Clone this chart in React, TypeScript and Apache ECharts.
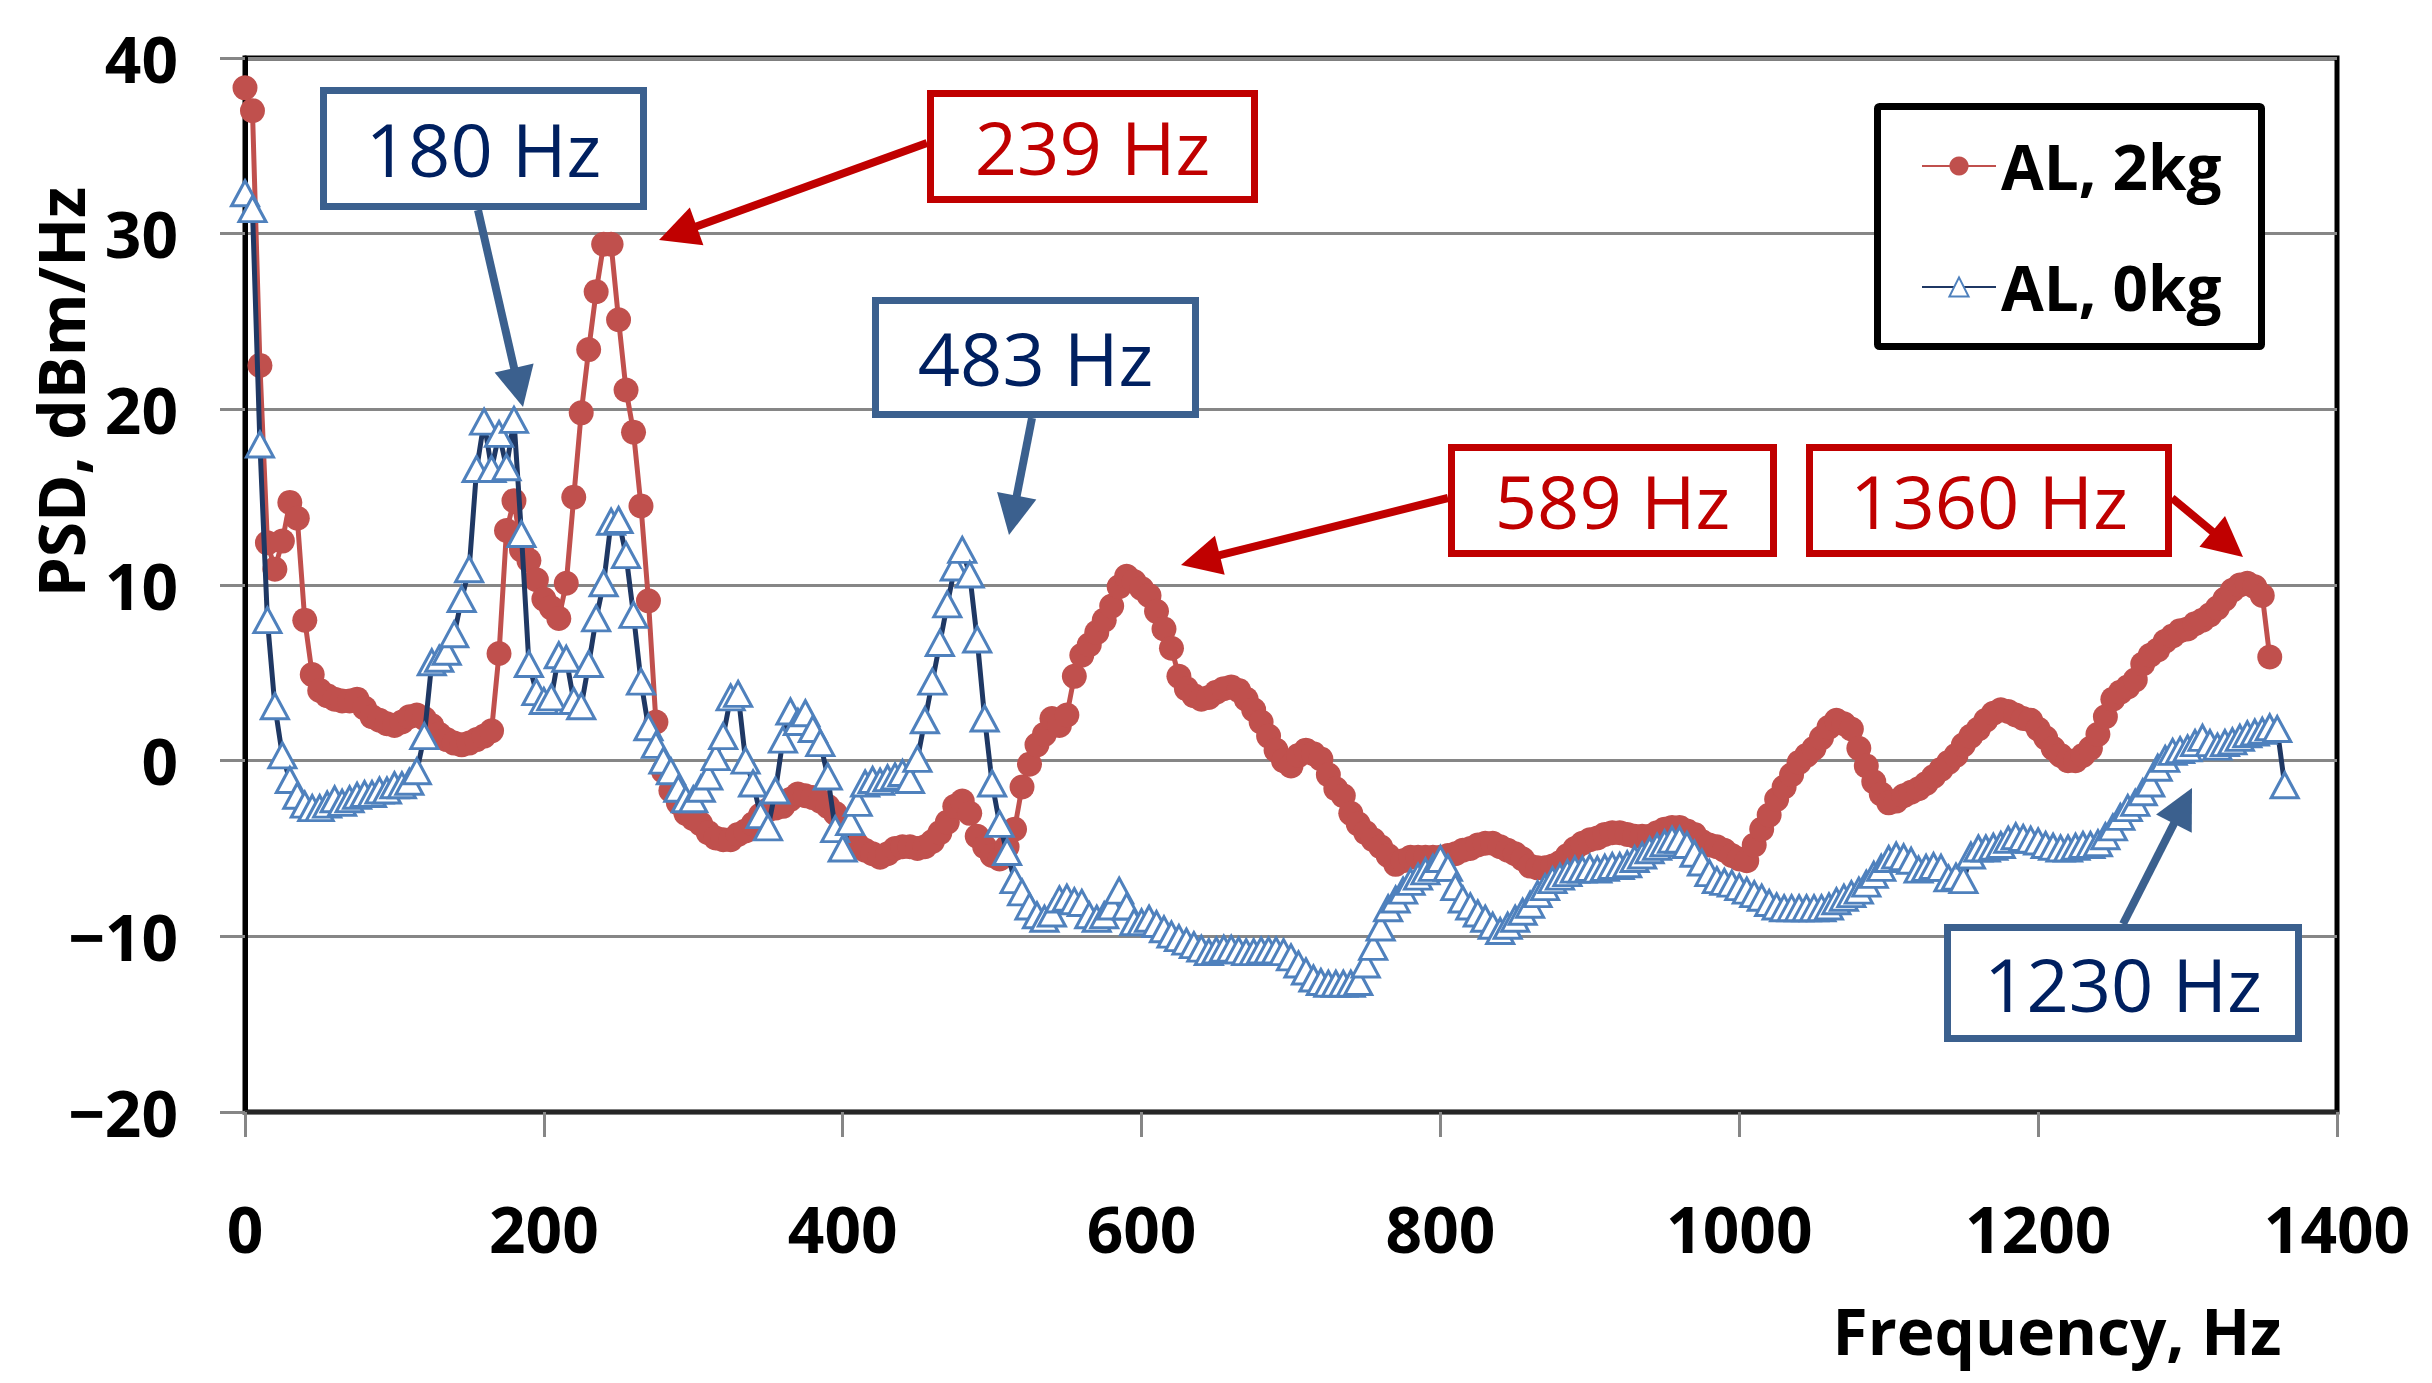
import React, { useEffect, useRef } from "react";
import * as echarts from "echarts";

// ---------------- DATA ----------------
const FREQ_HZ = [
  0, 5, 10, 15, 20, 25, 30, 35, 40, 45, 50, 55, 60, 65, 70, 75, 80, 85, 90, 95,
  100, 105, 110, 115, 120, 125, 130, 135, 140, 145, 150, 155, 160, 165, 170, 175, 180, 185, 190, 195,
  200, 205, 210, 215, 220, 225, 230, 235, 240, 245, 250, 255, 260, 265, 270, 275, 280, 285, 290, 295,
  300, 305, 310, 315, 320, 325, 330, 335, 340, 345, 350, 355, 360, 365, 370, 375, 380, 385, 390, 395,
  400, 405, 410, 415, 420, 425, 430, 435, 440, 445, 450, 455, 460, 465, 470, 475, 480, 485, 490, 495,
  500, 505, 510, 515, 520, 525, 530, 535, 540, 545, 550, 555, 560, 565, 570, 575, 580, 585, 590, 595,
  600, 605, 610, 615, 620, 625, 630, 635, 640, 645, 650, 655, 660, 665, 670, 675, 680, 685, 690, 695,
  700, 705, 710, 715, 720, 725, 730, 735, 740, 745, 750, 755, 760, 765, 770, 775, 780, 785, 790, 795,
  800, 805, 810, 815, 820, 825, 830, 835, 840, 845, 850, 855, 860, 865, 870, 875, 880, 885, 890, 895,
  900, 905, 910, 915, 920, 925, 930, 935, 940, 945, 950, 955, 960, 965, 970, 975, 980, 985, 990, 995,
  1000, 1005, 1010, 1015, 1020, 1025, 1030, 1035, 1040, 1045, 1050, 1055, 1060, 1065, 1070, 1075, 1080, 1085, 1090, 1095,
  1100, 1105, 1110, 1115, 1120, 1125, 1130, 1135, 1140, 1145, 1150, 1155, 1160, 1165, 1170, 1175, 1180, 1185, 1190, 1195,
  1200, 1205, 1210, 1215, 1220, 1225, 1230, 1235, 1240, 1245, 1250, 1255, 1260, 1265, 1270, 1275, 1280, 1285, 1290, 1295,
  1300, 1305, 1310, 1315, 1320, 1325, 1330, 1335, 1340, 1345, 1350, 1355, 1360, 1365,
];

// PSD, dBm/Hz for "AL, 2kg" (one value per FREQ_HZ entry, ends at 1355 Hz)
const AL_2KG = [
  38.3, 37.0, 22.5, 12.4, 10.9, 12.5, 14.7, 13.8, 8.0, 4.9,
  4.0, 3.7, 3.5, 3.4, 3.4, 3.5, 3.0, 2.5, 2.3, 2.1,
  2.0, 2.2, 2.5, 2.6, 2.4, 2.0, 1.5, 1.2, 1.0, 0.9,
  1.0, 1.2, 1.4, 1.7, 6.1, 13.1, 14.8, 12.0, 11.4, 10.3,
  9.2, 8.7, 8.1, 10.1, 15.0, 19.8, 23.4, 26.7, 29.4, 29.4,
  25.1, 21.1, 18.7, 14.5, 9.1, 2.2, -0.6, -1.7, -2.4, -3.0,
  -3.3, -3.6, -4.1, -4.4, -4.5, -4.5, -4.2, -4.0, -3.6, -3.1,
  -2.8, -2.7, -2.6, -2.2, -1.9, -2.0, -2.1, -2.3, -2.6, -3.0,
  -3.7, -4.3, -4.8, -5.1, -5.3, -5.5, -5.3, -5.0, -4.9, -4.9,
  -5.0, -4.9, -4.6, -4.1, -3.5, -2.6, -2.3, -3.0, -4.3, -4.9,
  -5.4, -5.6, -4.9, -3.9, -1.5, -0.2, 0.9, 1.5, 2.4, 2.0,
  2.6, 4.8, 6.0, 6.6, 7.3, 8.0, 8.8, 9.9, 10.5, 10.2,
  9.8, 9.4, 8.5, 7.5, 6.4, 4.8, 4.1, 3.7, 3.5, 3.6,
  3.9, 4.1, 4.2, 4.0, 3.5, 2.9, 2.2, 1.4, 0.6, 0.0,
  -0.3, 0.3, 0.6, 0.4, 0.1, -0.8, -1.6, -2.0, -3.0, -3.6,
  -4.1, -4.5, -4.9, -5.4, -5.9, -5.7, -5.5, -5.5, -5.5, -5.5,
  -5.5, -5.4, -5.3, -5.1, -5.0, -4.8, -4.7, -4.7, -4.9, -5.1,
  -5.3, -5.6, -6.0, -6.1, -6.1, -6.0, -5.8, -5.4, -5.0, -4.7,
  -4.5, -4.4, -4.2, -4.1, -4.1, -4.2, -4.3, -4.3, -4.3, -4.1,
  -3.9, -3.8, -3.8, -4.0, -4.2, -4.6, -4.8, -4.9, -5.1, -5.4,
  -5.6, -5.7, -4.8, -3.9, -3.1, -2.2, -1.5, -0.8, -0.1, 0.3,
  0.7, 1.3, 1.9, 2.3, 2.1, 1.8, 0.7, -0.3, -1.2, -1.9,
  -2.4, -2.3, -2.0, -1.8, -1.6, -1.3, -0.9, -0.5, -0.1, 0.3,
  0.9, 1.4, 1.8, 2.3, 2.7, 2.9, 2.8, 2.6, 2.4, 2.3,
  1.8, 1.3, 0.7, 0.3, 0.0, 0.0, 0.3, 0.7, 1.5, 2.5,
  3.5, 3.9, 4.2, 4.6, 5.5, 6.0, 6.3, 6.8, 7.1, 7.4,
  7.5, 7.8, 8.0, 8.3, 8.7, 9.2, 9.7, 10.0, 10.1, 9.9,
  9.4, 5.9,
];

// PSD, dBm/Hz for "AL, 0kg" (one value per FREQ_HZ entry, ends at 1365 Hz)
const AL_0KG = [
  32.3, 31.4, 18.0, 8.0, 3.1, 0.3, -1.1, -2.0, -2.5, -2.7,
  -2.7, -2.5, -2.2, -2.4, -2.2, -2.0, -1.9, -1.9, -1.7, -1.7,
  -1.4, -1.4, -1.2, -0.6, 1.4, 5.6, 5.8, 6.2, 7.2, 9.2,
  10.9, 16.6, 19.3, 16.6, 18.6, 16.7, 19.4, 12.9, 5.5, 3.9,
  3.4, 3.6, 6.0, 5.8, 3.4, 3.1, 5.5, 8.1, 10.1, 13.6,
  13.7, 11.7, 8.3, 4.5, 1.9, 0.9, 0.0, -0.6, -1.6, -2.2,
  -2.2, -1.6, -0.9, 0.2, 1.4, 3.6, 3.8, 0.0, -1.3, -3.1,
  -3.8, -1.7, 1.2, 2.8, 2.2, 2.7, 1.8, 1.0, -0.9, -3.9,
  -5.0, -3.5, -2.4, -1.3, -1.1, -1.2, -1.0, -0.9, -0.7, -1.1,
  0.1, 2.3, 4.5, 6.7, 8.9, 11.0, 12.0, 10.6, 6.9, 2.4,
  -1.3, -3.6, -5.2, -6.8, -7.5, -8.3, -8.8, -9.0, -8.7, -7.9,
  -7.8, -8.0, -8.1, -8.8, -9.0, -8.8, -8.3, -7.4, -8.3, -9.2,
  -9.2, -9.0, -9.3, -9.6, -9.9, -10.1, -10.3, -10.5, -10.7, -10.9,
  -10.8, -10.7, -10.7, -10.8, -10.9, -10.9, -10.8, -10.8, -10.8, -10.9,
  -11.2, -11.6, -12.0, -12.4, -12.6, -12.7, -12.7, -12.7, -12.7, -12.6,
  -11.6, -10.6, -9.5, -8.4, -7.9, -7.4, -6.9, -6.6, -6.3, -6.1,
  -5.6, -6.1, -7.2, -7.9, -8.3, -8.7, -9.0, -9.4, -9.7, -9.4,
  -9.0, -8.6, -8.2, -7.6, -7.2, -6.8, -6.6, -6.4, -6.2, -6.2,
  -6.1, -6.2, -6.1, -6.0, -6.0, -5.9, -5.6, -5.4, -5.1, -4.9,
  -4.7, -4.5, -4.5, -4.8, -5.3, -5.8, -6.4, -6.8, -6.9, -7.0,
  -7.2, -7.4, -7.6, -7.8, -8.1, -8.3, -8.4, -8.4, -8.4, -8.4,
  -8.4, -8.4, -8.3, -8.0, -7.8, -7.6, -7.4, -7.0, -6.5, -6.1,
  -5.6, -5.4, -5.5, -5.7, -6.2, -6.1, -6.0, -6.1, -6.7, -6.6,
  -6.8, -5.4, -5.0, -5.0, -4.9, -4.8, -4.5, -4.3, -4.4, -4.5,
  -4.6, -4.8, -4.9, -5.0, -5.0, -4.9, -4.8, -4.8, -4.7, -4.3,
  -3.8, -3.2, -2.7, -2.4, -1.8, -1.3, -0.4, 0.1, 0.5, 0.6,
  0.7, 1.0, 1.3, 1.0, 0.8, 1.0, 1.1, 1.3, 1.5, 1.6,
  1.7, 1.9, 1.8, -1.4,
];

const SERIES_NAMES = ["AL, 2kg", "AL, 0kg"];
const X_RANGE = [0, 1400];
const X_STEP = 200;
const Y_RANGE = [-20, 40];
const Y_STEP = 10;
const X_TITLE = "Frequency, Hz";
const Y_TITLE = "PSD, dBm/Hz";
const CALLOUT_TEXTS = ["180 Hz", "239 Hz", "483 Hz", "589 Hz", "1360 Hz", "1230 Hz"];

// ---------------- LAYOUT / STYLE ----------------
const FONT = '"Open Sans", "Noto Sans", sans-serif';
const RED = "#C0504D";
const NAVY = "#1F3864";
const TRI = "#4F81BD";
const BOX_BLUE = "#3B608E";
const TXT_BLUE = "#002060";
const BOX_RED = "#C00000";

// callout layout: outer box [x0, y0, x1, y1], arrow [fromX, fromY, tipX, tipY]
const CALLOUT_LAYOUT = [
  { box: [320, 87, 647, 210], arrow: [478, 210, 523, 407], kind: "blue" },
  { box: [927, 90, 1258, 203], arrow: [927, 143, 659, 240], kind: "red" },
  { box: [872, 297, 1199, 418], arrow: [1032, 418, 1009, 535], kind: "blue" },
  { box: [1448, 444, 1777, 557], arrow: [1448, 498, 1181, 565], kind: "red" },
  { box: [1806, 444, 2172, 557], arrow: [2172, 498, 2243, 557], kind: "red" },
  { box: [1944, 924, 2302, 1042], arrow: [2123, 924, 2192, 788], kind: "blue" },
];

function arrowEls(x1: number, y1: number, x2: number, y2: number, color: string) {
  const dx = x2 - x1;
  const dy = y2 - y1;
  const L = Math.hypot(dx, dy);
  const ux = dx / L;
  const uy = dy / L;
  const hl = 40;
  const hw = 40;
  const bx = x2 - ux * hl;
  const by = y2 - uy * hl;
  const px = -uy;
  const py = ux;
  return [
    {
      type: "line",
      shape: { x1, y1, x2: bx + ux * 4, y2: by + uy * 4 },
      style: { stroke: color, lineWidth: 8 },
      z: 50,
    },
    {
      type: "polygon",
      shape: {
        points: [
          [x2, y2],
          [bx + (px * hw) / 2, by + (py * hw) / 2],
          [bx - (px * hw) / 2, by - (py * hw) / 2],
        ],
      },
      style: { fill: color },
      z: 50,
    },
  ];
}

function buildGraphic() {
  const els: any[] = [];
  const lw = 7;
  CALLOUT_LAYOUT.forEach((c, i) => {
    const stroke = c.kind === "blue" ? BOX_BLUE : BOX_RED;
    const txt = c.kind === "blue" ? TXT_BLUE : BOX_RED;
    const [x0, y0, x1, y1] = c.box;
    const [ax, ay, tx, ty] = c.arrow;
    els.push(...arrowEls(ax, ay, tx, ty, stroke));
    els.push({
      type: "rect",
      shape: { x: x0 + lw / 2, y: y0 + lw / 2, width: x1 - x0 - lw, height: y1 - y0 - lw },
      style: { fill: "#ffffff", stroke, lineWidth: lw },
      z: 60,
    });
    els.push({
      type: "text",
      x: (x0 + x1) / 2,
      y: (y0 + y1) / 2,
      style: {
        text: CALLOUT_TEXTS[i],
        fill: txt,
        font: `74px ${FONT}`,
        textAlign: "center",
        textVerticalAlign: "middle",
        align: "center",
        verticalAlign: "middle",
      },
      z: 61,
    });
  });
  els.push({
    type: "text",
    x: 60,
    y: 392,
    rotation: Math.PI / 2,
    style: {
      text: Y_TITLE,
      fill: "#000",
      font: `bold 64px ${FONT}`,
      textAlign: "center",
      textVerticalAlign: "middle",
      align: "center",
      verticalAlign: "middle",
    },
    z: 61,
  });
  els.push({
    type: "text",
    x: 2057,
    y: 1330,
    style: {
      text: X_TITLE,
      fill: "#000",
      font: `bold 64px ${FONT}`,
      textAlign: "center",
      textVerticalAlign: "middle",
      align: "center",
      verticalAlign: "middle",
    },
    z: 61,
  });
  return els;
}

function pairs(values: number[]) {
  return values.map((v, i) => [FREQ_HZ[i], v]);
}

export default function App() {
  const ref = useRef<HTMLDivElement>(null);

  useEffect(() => {
    document.body.style.margin = "0";
    const chart = echarts.init(ref.current as HTMLDivElement, undefined, { renderer: "svg" });
    const option: any = {
      animation: false,
      backgroundColor: "#ffffff",
      textStyle: { fontFamily: FONT },
      grid: {
        left: 245,
        top: 58,
        width: 2092,
        height: 1054,
        show: true,
        borderColor: "#000000",
        borderWidth: 5,
        backgroundColor: "transparent",
      },
      xAxis: {
        type: "value",
        min: X_RANGE[0],
        max: X_RANGE[1],
        interval: X_STEP,
        axisLine: { show: true, onZero: false, lineStyle: { color: "#262626", width: 4 } },
        axisTick: { show: true, length: 25, lineStyle: { color: "#868686", width: 3 } },
        axisLabel: {
          margin: 84,
          fontFamily: FONT,
          fontWeight: "bold",
          fontSize: 64,
          color: "#000",
          formatter: (v: number) => String(v),
        },
        splitLine: { show: false },
      },
      yAxis: {
        type: "value",
        min: Y_RANGE[0],
        max: Y_RANGE[1],
        interval: Y_STEP,
        axisLine: { show: true, onZero: false, lineStyle: { color: "#000", width: 5 } },
        axisTick: { show: true, length: 25, lineStyle: { color: "#868686", width: 3 } },
        axisLabel: {
          margin: 67,
          fontFamily: FONT,
          fontWeight: "bold",
          fontSize: 64,
          color: "#000",
          formatter: (v: number) => (v < 0 ? "\u2212" + Math.abs(v) : String(v)),
        },
        splitLine: { show: true, lineStyle: { color: "#868686", width: 3 } },
      },
      legend: {
        data: SERIES_NAMES,
        orient: "vertical",
        left: 1877.5,
        top: 106.5,
        padding: [23.5, 40, 23.5, 43.5],
        itemGap: 49,
        itemWidth: 74,
        itemHeight: 24,
        backgroundColor: "#ffffff",
        borderColor: "#000000",
        borderWidth: 7,
        borderRadius: 2,
        textStyle: {
          fontFamily: FONT,
          fontWeight: "bold",
          fontSize: 62,
          color: "#000",
          lineHeight: 72,
        },
        z: 70,
      },
      series: [
        {
          name: SERIES_NAMES[0],
          type: "line",
          data: pairs(AL_2KG),
          symbol: "circle",
          symbolSize: 25,
          showAllSymbol: true,
          itemStyle: { color: RED },
          lineStyle: { color: RED, width: 5 },
          emphasis: { disabled: true },
          z: 2,
        },
        {
          name: SERIES_NAMES[1],
          type: "line",
          data: pairs(AL_0KG),
          symbol: "triangle",
          symbolSize: [27, 25],
          showAllSymbol: true,
          itemStyle: { color: "#ffffff", borderColor: TRI, borderWidth: 3 },
          lineStyle: { color: NAVY, width: 5 },
          emphasis: { disabled: true },
          z: 3,
        },
      ],
      graphic: buildGraphic(),
    };
    chart.setOption(option);
    return () => chart.dispose();
  }, []);

  return <div ref={ref} style={{ width: 2432, height: 1383 }} />;
}
